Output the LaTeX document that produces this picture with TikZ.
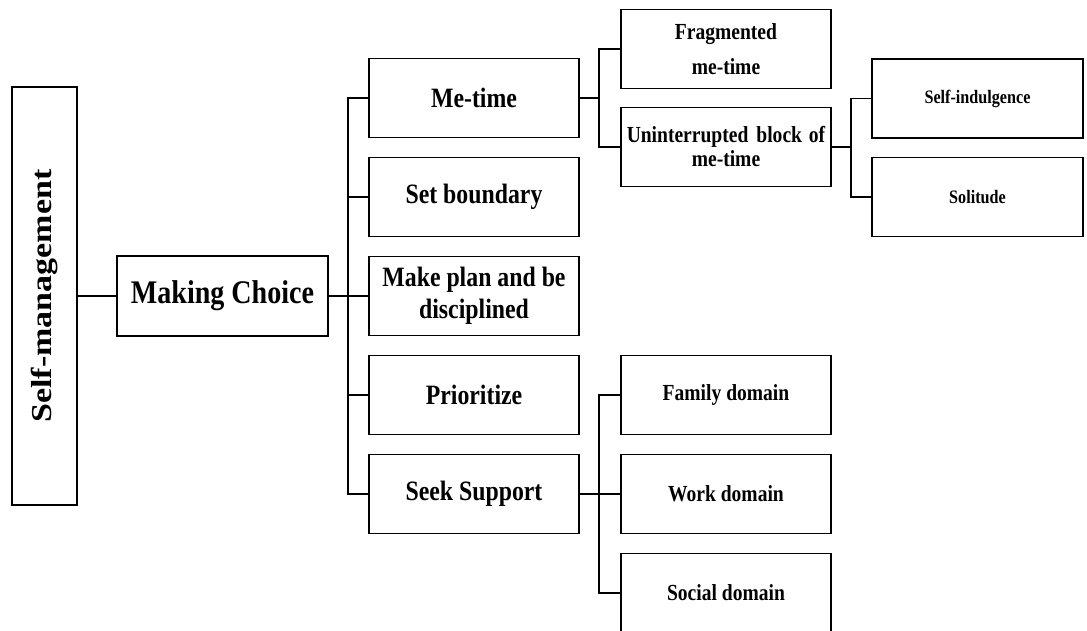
\documentclass[tikz,border=0pt]{standalone}
\usepackage{fontspec}
\setmainfont{Liberation Serif}[FakeStretch=0.85]
\newfontfamily\uprightserif{Liberation Serif}
\begin{document}
\begin{tikzpicture}[x=1pt,y=-1pt,
  box/.style={draw=black, line width=1.7pt, fill=white, inner sep=0pt, outer sep=0pt,
    align=center, font=\bfseries},
  lvlzero/.style={box, minimum width=65pt, minimum height=418pt},
  lvlone/.style={box, minimum width=211pt, minimum height=80pt, font=\bfseries\fontsize{33}{38}\selectfont},
  lvltwo/.style={box, minimum width=210pt, minimum height=79pt, font=\bfseries\fontsize{28}{32}\selectfont},
  lvlthree/.style={box, minimum width=210pt, minimum height=79pt, font=\bfseries\fontsize{23}{24}\selectfont},
  lvlfour/.style={box, minimum width=211pt, minimum height=79pt, font=\bfseries\fontsize{19}{22}\selectfont},
  link/.style={draw=black, line width=1.7pt}]
\useasboundingbox (0,0) rectangle (1087,631);
\clip (0,0) rectangle (1087,631);

% root and first level
\node[lvlzero] (sm) at (44.5,296)
  {\rotatebox{90}{\scalebox{1}[0.85]{\uprightserif\bfseries\fontsize{34}{40}\selectfont Self-management}}};
\node[lvlone] (mc) at (222.5,296) {Making Choice};

% strategies
\node[lvltwo] (me) at (474,98)  {Me-time};
\node[lvltwo] (sb) at (474,197) {Set boundary};
\node[lvltwo] (mp) at (474,296) {Make plan and be\\disciplined};
\node[lvltwo] (pr) at (474,395) {Prioritize};
\node[lvltwo] (ss) at (474,494) {Seek Support};

% me-time kinds
\node[lvlthree, font=\bfseries\fontsize{23}{35}\selectfont] (fr) at (726,49) {Fragmented\\me-time};
\node[lvlthree] (un) at (726,147) {Uninterrupted\hspace{0.35em}block\hspace{0.3em}of\\me-time};
\node[lvlfour] (si) at (977.5,98.5) {Self-indulgence};
\node[lvlfour] (so) at (977.5,197) {Solitude};

% support domains
\node[lvlthree] (fa) at (726,395) {Family domain};
\node[lvlthree] (wo) at (726,494) {Work domain};
\node[lvlthree] (sd) at (726,593) {Social domain};

% branching points
\coordinate (t1) at (348,296);
\coordinate (b1) at (599,98);
\coordinate (b2) at (851,147);
\coordinate (b3) at (599,494);

% connectors
\draw[link] (sm.east) -- (mc.west);
\draw[link] (mc.east) -- (t1);
\foreach \n in {me,sb,mp,pr,ss} \draw[link] (\n.west) -| (t1);
\draw[link] (me.east) -- (b1);
\draw[link] (fr.west) -| (b1);
\draw[link] (un.west) -| (b1);
\draw[link] (un.east) -- (b2);
\draw[link] (si.west) -| (b2);
\draw[link] (so.west) -| (b2);
\draw[link] (ss.east) -- (b3);
\draw[link] (fa.west) -| (b3);
\draw[link] (wo.west) -- (b3);
\draw[link] (sd.west) -| (b3);
\end{tikzpicture}
\end{document}
